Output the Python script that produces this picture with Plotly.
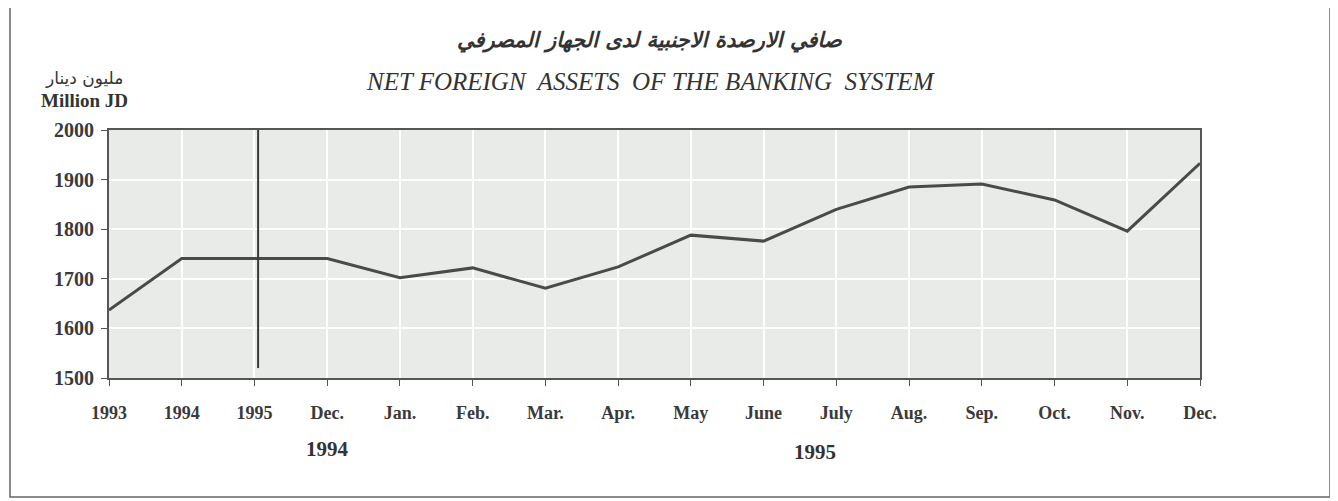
import plotly.graph_objects as go

labels = ["1993", "1994", "1995", "Dec.", "Jan.", "Feb.", "Mar.", "Apr.", "May", "June",
          "July", "Aug.", "Sep.", "Oct.", "Nov.", "Dec."]
values = [1637, 1741, 1741, 1741, 1702, 1722, 1681, 1724, 1788, 1776,
          1840, 1885, 1891, 1859, 1796, 1933]
y_ticks = [1500, 1600, 1700, 1800, 1900, 2000]
separator_x = 2.05
separator_bottom = 1520
year_labels = [("1994", 3.0), ("1995", 9.7)]

xs = list(range(len(labels)))

# plot area in window pixels (page body adds an 8px offset)
PX0, PX1, PY0, PY1 = 109, 1200, 130, 378
OFF = 8


def px(x):
    return (x - PX0) / (PX1 - PX0)


def py(y):
    return (PY1 - y) / (PY1 - PY0)


fig = go.Figure()
fig.add_trace(go.Scatter(x=xs, y=values, mode="lines",
                         line=dict(color="#4a4a4a", width=3), showlegend=False,
                         hoverinfo="skip"))

fig.update_layout(
    width=1338, height=501,
    margin=dict(l=PX0 - OFF, r=1338 - (PX1 - OFF), t=PY0 - OFF, b=501 - (PY1 - OFF)),
    paper_bgcolor="white",
    plot_bgcolor="#e9ebe8",
    xaxis=dict(range=[0, len(labels) - 1], tickvals=xs, ticktext=[f"<b>{t}</b>" for t in labels],
               showgrid=True, gridcolor="white", gridwidth=2,
               showline=True, linecolor="#555555", linewidth=2, mirror=True,
               ticks="outside", ticklen=6, tickcolor="#555555",
               tickfont=dict(family="Liberation Serif", size=18, color="#3a3a3a"),
               ticklabelstandoff=11, zeroline=False),
    yaxis=dict(range=[1500, 2000], tickvals=y_ticks, ticktext=[f"<b>{v}</b>" for v in y_ticks],
               showgrid=True, gridcolor="white", gridwidth=2,
               showline=True, linecolor="#555555", linewidth=2, mirror=True,
               ticks="outside", ticklen=6, tickcolor="#555555",
               tickfont=dict(family="Liberation Serif", size=20, color="#3a3a3a"),
               ticklabelstandoff=3, zeroline=False),
)

# vertical separator
fig.add_shape(type="line", xref="x", yref="y", x0=separator_x, x1=separator_x,
              y0=separator_bottom, y1=2000, line=dict(color="#3a3a3a", width=2))

# outer border
fig.add_shape(type="rect", xref="paper", yref="paper",
              x0=px(10), x1=px(1330), y0=py(497), y1=py(7),
              line=dict(color="#666666", width=1.5), fillcolor="rgba(0,0,0,0)")


def note(text, x, y, size, family, xref="paper"):
    fig.add_annotation(xref=xref, yref="paper", x=x, y=y, text=text, showarrow=False,
                       xanchor="center", yanchor="middle",
                       font=dict(family=family, size=size, color="#333333"))


note("<b><i>صافي الارصدة الاجنبية لدى الجهاز المصرفي</i></b>", px(650), py(40), 21, "DejaVu Sans")
note("<i>NET FOREIGN&nbsp; ASSETS&nbsp; OF THE BANKING&nbsp; SYSTEM</i>", px(650), py(82), 25,
     "Liberation Serif")
note("مليون دينار", px(84), py(78), 17, "DejaVu Sans")
note("<b>Million JD</b>", px(84), py(100), 19, "Liberation Serif")
for (txt, xv), yp in zip(year_labels, [449, 452]):
    note(f"<b>{txt}</b>", xv, py(yp), 21, "Liberation Serif", xref="x")

fig.write_html("out.html")
